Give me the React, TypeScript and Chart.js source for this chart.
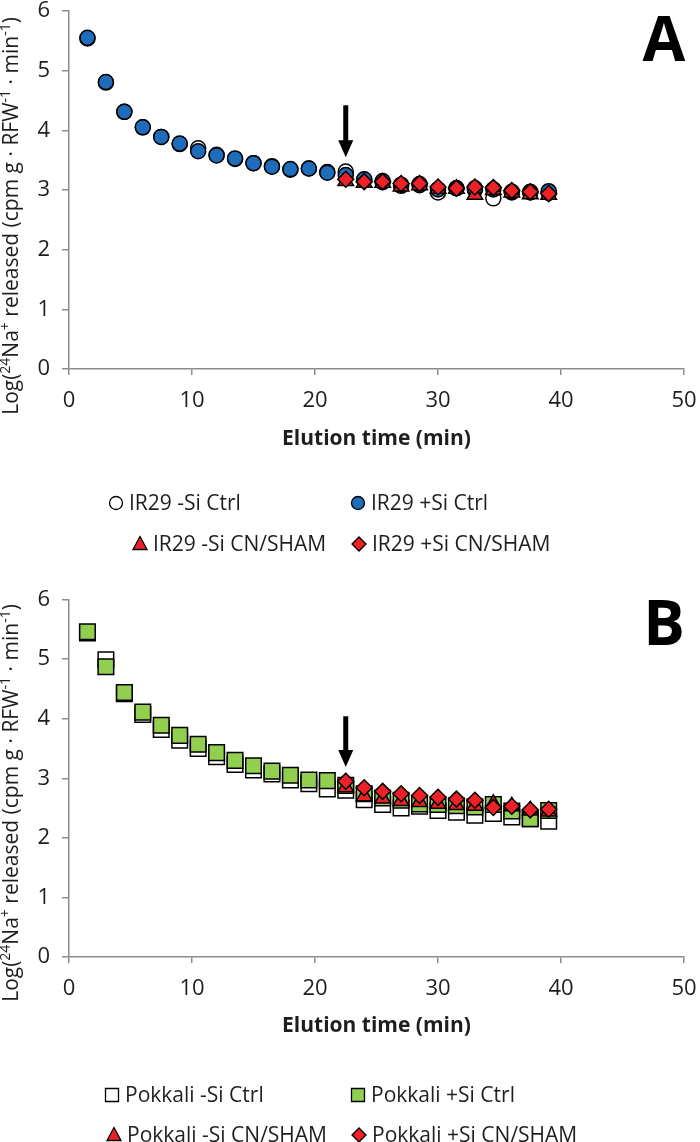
import React, { useEffect, useRef } from "react";
import { Chart, registerables } from "chart.js";
Chart.register(...registerables);

// ---------- DATA ----------
const times = [1.5, 3, 4.5, 6, 7.5, 9, 10.5, 12, 13.5, 15, 16.5, 18, 19.5, 21, 22.5, 24, 25.5, 27, 28.5, 30, 31.5, 33, 34.5, 36, 37.5, 39];
const cnTimes = [22.5, 24, 25.5, 27, 28.5, 30, 31.5, 33, 34.5, 36, 37.5, 39];

const ir29MinusSiCtrl = [5.54, 4.8, 4.31, 4.05, 3.89, 3.77, 3.7, 3.59, 3.52, 3.45, 3.4, 3.34, 3.36, 3.3, 3.31, 3.17, 3.13, 3.07, 3.08, 2.96, 3.03, 3.0, 2.86, 2.96, 2.97, 2.95];
const ir29PlusSiCtrl = [5.55, 4.81, 4.31, 4.05, 3.89, 3.78, 3.65, 3.58, 3.53, 3.45, 3.39, 3.35, 3.36, 3.29, 3.25, 3.18, 3.15, 3.09, 3.1, 3.01, 3.03, 3.03, 3.01, 2.97, 2.96, 2.98];
const ir29MinusSiCN = [3.15, 3.12, 3.12, 3.06, 3.08, 3.02, 3.02, 2.92, 3.0, 2.96, 2.93, 2.92];
const ir29PlusSiCN = [3.18, 3.14, 3.14, 3.11, 3.11, 3.05, 3.03, 3.05, 3.04, 2.99, 2.97, 2.94];

const pokMinusSiCtrl = [5.44, 4.99, 4.42, 4.07, 3.82, 3.64, 3.5, 3.36, 3.23, 3.14, 3.07, 2.97, 2.91, 2.82, 2.8, 2.64, 2.56, 2.5, 2.53, 2.46, 2.43, 2.38, 2.41, 2.35, 2.32, 2.28];
const pokPlusSiCtrl = [5.46, 4.87, 4.44, 4.11, 3.89, 3.72, 3.57, 3.43, 3.3, 3.21, 3.12, 3.05, 2.97, 2.96, 2.88, 2.74, 2.67, 2.63, 2.57, 2.56, 2.54, 2.52, 2.56, 2.45, 2.32, 2.46];
const pokMinusSiCN = [2.85, 2.7, 2.66, 2.62, 2.6, 2.57, 2.55, 2.54, 2.57, 2.53, 2.46, 2.44];
const pokPlusSiCN = [2.95, 2.84, 2.78, 2.74, 2.71, 2.68, 2.65, 2.63, 2.51, 2.53, 2.47, 2.48];

const labelsA = ["IR29 -Si Ctrl", "IR29 +Si Ctrl", "IR29 -Si CN/SHAM", "IR29 +Si CN/SHAM"];
const labelsB = ["Pokkali -Si Ctrl", "Pokkali +Si Ctrl", "Pokkali -Si CN/SHAM", "Pokkali +Si CN/SHAM"];
const xTitle = "Elution time (min)";
const yTitleSegments: [string, boolean][] = [
  ["Log(", false], ["24", true], ["Na", false], ["+", true],
  [" released (cpm g \u00B7 RFW", false], ["-1", true], [" \u00B7 min", false], ["-1", true], [")", false],
];
const arrowTime = 22.5;

// ---------- STYLE ----------
const FONT = '"Open Sans", "Noto Sans", sans-serif';
const BLUE = "#1F6DBA";
const RED = "#EC2227";
const GREEN = "#92CF50";
const AXIS = "#8C8C8C";
const TEXT = "#1E1E1E";

const pts = (xs: number[], ys: number[]) => xs.map((x, i) => ({ x, y: ys[i] }));

function drawMarker(ctx: CanvasRenderingContext2D, kind: string, cx: number, cy: number, fill: string) {
  ctx.save();
  ctx.fillStyle = fill;
  ctx.strokeStyle = "#000";
  ctx.lineWidth = 1.3;
  ctx.beginPath();
  if (kind === "circle") {
    ctx.arc(cx, cy, 6.5, 0, Math.PI * 2);
  } else if (kind === "square") {
    ctx.rect(cx - 6.5, cy - 6.5, 13, 13);
  } else if (kind === "triangle") {
    ctx.moveTo(cx, cy - 7.5);
    ctx.lineTo(cx + 7, cy + 5.5);
    ctx.lineTo(cx - 7, cy + 5.5);
    ctx.closePath();
  } else {
    ctx.moveTo(cx, cy - 7);
    ctx.lineTo(cx + 7, cy);
    ctx.lineTo(cx, cy + 7);
    ctx.lineTo(cx - 7, cy);
    ctx.closePath();
  }
  ctx.fill();
  ctx.stroke();
  ctx.restore();
}

const overlayPlugin = {
  id: "overlay",
  afterDraw(chart: any, _args: any, opts: any) {
    const ctx: CanvasRenderingContext2D = chart.ctx;
    const xs = chart.scales.x;
    const ys = chart.scales.y;
    const area = chart.chartArea;
    ctx.save();

    // arrow
    const ax = xs.getPixelForValue(opts.arrowX);
    const y1 = ys.getPixelForValue(opts.arrowFrom);
    const y2 = ys.getPixelForValue(opts.arrowTo);
    ctx.fillStyle = "#000";
    ctx.fillRect(ax - 2.5, y1, 5, y2 - y1 - 15);
    ctx.beginPath();
    ctx.moveTo(ax - 7.5, y2 - 17);
    ctx.lineTo(ax + 7.5, y2 - 17);
    ctx.lineTo(ax, y2);
    ctx.closePath();
    ctx.fill();

    // panel letter
    ctx.fillStyle = "#000";
    ctx.font = `bold 62px ${FONT}`;
    ctx.textAlign = "center";
    ctx.textBaseline = "alphabetic";
    ctx.fillText(opts.letter, 664, opts.letterBase);

    // x title
    ctx.fillStyle = TEXT;
    ctx.font = `bold 21px ${FONT}`;
    ctx.textAlign = "center";
    ctx.textBaseline = "middle";
    ctx.fillText(xTitle, (area.left + area.right) / 2, opts.xTitleY);

    // y title (rotated, with superscripts)
    const normal = `21px ${FONT}`;
    const sup = `14px ${FONT}`;
    let total = 0;
    for (const [t, s] of yTitleSegments) {
      ctx.font = s ? sup : normal;
      total += ctx.measureText(t).width;
    }
    ctx.save();
    ctx.translate(10, opts.yTitleCenter);
    ctx.rotate(-Math.PI / 2);
    ctx.textAlign = "left";
    ctx.textBaseline = "alphabetic";
    let pos = -total / 2;
    for (const [t, s] of yTitleSegments) {
      ctx.font = s ? sup : normal;
      ctx.fillText(t, pos, s ? 0 : 8);
      pos += ctx.measureText(t).width;
    }
    ctx.restore();

    // legend
    ctx.font = `21px ${FONT}`;
    ctx.textAlign = "left";
    ctx.textBaseline = "middle";
    for (const item of opts.legend) {
      drawMarker(ctx, item.kind, item.mx, item.y, item.fill);
      ctx.fillStyle = TEXT;
      ctx.fillText(item.text, item.mx + 13, item.y + 1);
    }
    ctx.restore();
  },
};

function makeScales(xHeight: number) {
  const tickFont = { family: FONT, size: 22 };
  return {
    x: {
      type: "linear",
      min: 0,
      max: 50,
      ticks: { stepSize: 10, padding: 13, font: tickFont, color: TEXT },
      grid: { drawOnChartArea: false, drawTicks: true, tickLength: 6, color: AXIS, lineWidth: 1.5 },
      border: { color: AXIS, width: 1.5 },
      afterFit: (s: any) => {
        s.height = xHeight;
        s.paddingLeft = 0;
        s.paddingRight = 0;
      },
    },
    y: {
      type: "linear",
      min: 0,
      max: 6,
      ticks: { stepSize: 1, padding: 12, font: tickFont, color: TEXT },
      grid: { drawOnChartArea: false, drawTicks: true, tickLength: 7, color: AXIS, lineWidth: 1.5 },
      border: { color: AXIS, width: 1.5 },
      afterFit: (s: any) => {
        s.width = 69;
        s.paddingTop = 0;
        s.paddingBottom = 0;
      },
    },
  };
}

function Panel(props: { top: number; height: number; config: any }) {
  const ref = useRef<HTMLCanvasElement>(null);
  useEffect(() => {
    const chart = new Chart(ref.current as HTMLCanvasElement, props.config);
    return () => chart.destroy();
  }, []);
  return (
    <canvas
      ref={ref}
      width={700}
      height={props.height}
      style={{ position: "absolute", left: 0, top: props.top, width: 700, height: props.height, display: "block" }}
    />
  );
}

function buildConfig(panel: "A" | "B") {
  const isA = panel === "A";
  const labels = isA ? labelsA : labelsB;
  const ctrlKind = isA ? "circle" : "rect";
  const ctrlR = isA ? 7.5 : 11;
  const plusFill = isA ? BLUE : GREEN;
  const d0 = isA ? ir29MinusSiCtrl : pokMinusSiCtrl;
  const d1 = isA ? ir29PlusSiCtrl : pokPlusSiCtrl;
  const d2 = isA ? ir29MinusSiCN : pokMinusSiCN;
  const d3 = isA ? ir29PlusSiCN : pokPlusSiCN;
  const base = { showLine: false, borderColor: "#000", borderWidth: 1.5 };
  const rows = isA ? [503, 544] : [508, 548];
  const legKind = isA ? "circle" : "square";
  return {
    type: "scatter",
    data: {
      datasets: [
        { ...base, label: labels[0], data: pts(times, d0), pointStyle: ctrlKind, pointRadius: ctrlR, backgroundColor: "#FFFFFF", order: 4 },
        { ...base, label: labels[1], data: pts(times, d1), pointStyle: ctrlKind, pointRadius: ctrlR, backgroundColor: plusFill, order: 3 },
        { ...base, label: labels[2], data: pts(cnTimes, d2), pointStyle: "triangle", pointRadius: 9, backgroundColor: RED, order: 2 },
        { ...base, label: labels[3], data: pts(cnTimes, d3), pointStyle: "rectRot", pointRadius: 8, backgroundColor: RED, order: 1 },
      ],
    },
    options: {
      responsive: false,
      animation: false,
      devicePixelRatio: 1,
      events: [],
      layout: { padding: { top: isA ? 11 : 10, right: 16, left: 0, bottom: 0 } },
      scales: makeScales(isA ? 218 : 185),
      plugins: {
        legend: { display: false },
        tooltip: { enabled: false },
        overlay: {
          letter: panel,
          letterBase: isA ? 61 : 58,
          arrowX: arrowTime,
          arrowFrom: isA ? 4.42 : 4.04,
          arrowTo: isA ? 3.55 : 3.19,
          xTitleY: 439,
          yTitleCenter: 216,
          legend: [
            { kind: legKind, fill: "#FFFFFF", mx: isA ? 116 : 112, y: rows[0], text: labels[0] },
            { kind: legKind, fill: plusFill, mx: 358, y: rows[0], text: labels[1] },
            { kind: "triangle", fill: RED, mx: isA ? 140 : 114, y: rows[1], text: labels[2] },
            { kind: "diamond", fill: RED, mx: 359, y: rows[1], text: labels[3] },
          ],
        },
      },
    },
    plugins: [overlayPlugin],
  };
}

export default function App() {
  useEffect(() => {
    document.body.style.margin = "0";
  }, []);
  return (
    <div style={{ position: "relative", width: 700, height: 1142, background: "#fff", overflow: "hidden" }}>
      <Panel top={0} height={587} config={buildConfig("A")} />
      <Panel top={587} height={555} config={buildConfig("B")} />
    </div>
  );
}
